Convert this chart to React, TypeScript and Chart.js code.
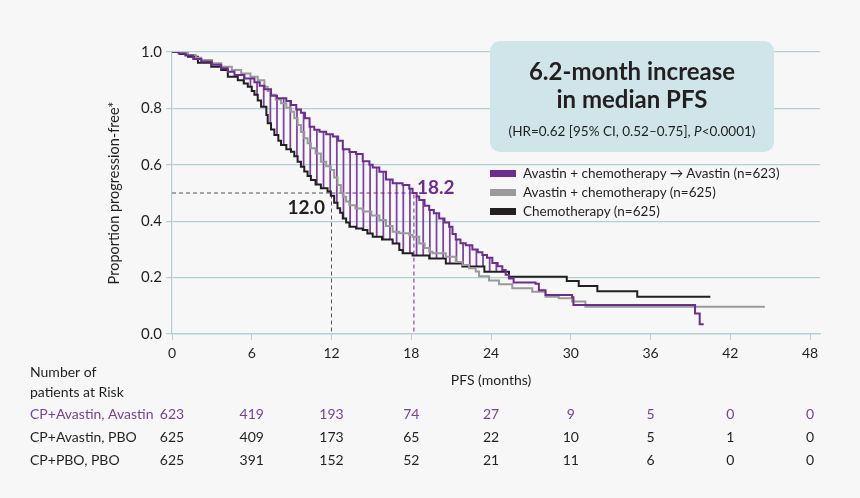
import React, { useRef, useEffect } from "react";
import Chart from "chart.js/auto";

// Kaplan-Meier curves: step times (months) and proportion progression-free
const maintTime = [0, 0.5, 1.0, 1.6, 2.2, 3.0, 3.7, 4.2, 4.7, 5.45, 6.2, 6.6, 6.95, 7.45, 7.9, 8.6, 8.95, 9.35, 9.7, 10.0, 10.35, 10.7, 11.1, 11.6, 12.1, 12.5, 12.85, 13.35, 13.85, 14.35, 14.85, 15.1, 15.6, 16.1, 16.6, 17.35, 17.85, 18.1, 18.4, 18.6, 19.0, 19.35, 19.7, 20.1, 20.5, 20.85, 21.1, 21.35, 21.7, 22.1, 22.6, 23.0, 23.35, 23.7, 24.1, 24.5, 24.85, 25.1, 25.35, 25.7, 27.35, 27.6, 28.1, 30.1, 30.2, 39.35, 39.7, 40.0];
const maintProb = [1.0, 0.995, 0.988, 0.975, 0.966, 0.955, 0.942, 0.93, 0.918, 0.906, 0.893, 0.88, 0.868, 0.845, 0.836, 0.826, 0.812, 0.796, 0.785, 0.765, 0.735, 0.724, 0.717, 0.708, 0.7, 0.685, 0.655, 0.645, 0.638, 0.613, 0.6, 0.59, 0.575, 0.548, 0.535, 0.528, 0.515, 0.5, 0.488, 0.475, 0.455, 0.44, 0.428, 0.41, 0.395, 0.38, 0.355, 0.335, 0.322, 0.315, 0.3, 0.29, 0.28, 0.27, 0.252, 0.24, 0.227, 0.21, 0.197, 0.183, 0.178, 0.155, 0.138, 0.13, 0.103, 0.073, 0.035, 0.035];

const avPboTime = [0, 0.6, 1.2, 1.8, 2.2, 3.0, 3.7, 4.5, 5.2, 5.9, 6.45, 6.95, 7.2, 7.45, 7.8, 8.2, 8.6, 8.95, 9.2, 9.45, 9.7, 9.95, 10.2, 10.45, 10.8, 11.2, 11.6, 11.95, 12.2, 12.45, 12.7, 12.85, 13.1, 13.35, 13.8, 14.35, 15.0, 15.6, 16.1, 16.6, 17.1, 17.85, 18.1, 18.6, 19.0, 19.35, 19.6, 20.6, 21.35, 21.85, 22.35, 22.85, 23.1, 23.85, 24.6, 25.6, 27.1, 28.1, 29.1, 30.1, 31.1, 44.6];
const avPboProb = [1.0, 0.997, 0.989, 0.98, 0.972, 0.96, 0.948, 0.936, 0.924, 0.912, 0.9, 0.877, 0.862, 0.848, 0.832, 0.818, 0.802, 0.788, 0.765, 0.741, 0.716, 0.694, 0.676, 0.659, 0.64, 0.611, 0.595, 0.582, 0.555, 0.528, 0.5, 0.487, 0.47, 0.457, 0.445, 0.434, 0.42, 0.404, 0.383, 0.363, 0.357, 0.351, 0.345, 0.321, 0.305, 0.292, 0.286, 0.274, 0.255, 0.245, 0.233, 0.222, 0.205, 0.19, 0.176, 0.162, 0.15, 0.132, 0.127, 0.115, 0.097, 0.097];

const chemoTime = [0, 0.6, 1.2, 1.95, 2.95, 3.7, 4.2, 4.95, 5.4, 5.7, 6.0, 6.2, 6.45, 6.7, 7.1, 7.2, 7.45, 7.7, 8.0, 8.2, 8.6, 8.95, 9.2, 9.45, 9.7, 9.95, 10.2, 10.45, 10.8, 11.2, 11.7, 11.95, 12.2, 12.45, 12.65, 12.85, 13.1, 13.35, 13.85, 14.35, 14.7, 15.1, 15.8, 16.6, 17.1, 17.35, 18.1, 19.35, 20.6, 21.85, 23.5, 25.35, 29.7, 30.6, 32.0, 35.0, 40.5];
const chemoProb = [1.0, 0.993, 0.983, 0.962, 0.948, 0.936, 0.912, 0.9, 0.888, 0.877, 0.862, 0.848, 0.828, 0.806, 0.777, 0.747, 0.725, 0.706, 0.685, 0.67, 0.655, 0.646, 0.63, 0.611, 0.593, 0.576, 0.56, 0.546, 0.53, 0.517, 0.505, 0.49, 0.465, 0.446, 0.43, 0.41, 0.395, 0.38, 0.374, 0.369, 0.356, 0.345, 0.335, 0.321, 0.298, 0.286, 0.278, 0.268, 0.25, 0.239, 0.221, 0.203, 0.188, 0.17, 0.152, 0.132, 0.132];

// months where the purple hatch lines are drawn
const hatchTimes = [5.4, 5.9, 6.4, 6.9, 7.4, 7.9, 8.4, 8.9, 9.4, 9.9, 10.4, 10.9, 11.4, 11.9, 12.4, 12.9, 13.4, 13.9, 14.4, 14.9, 15.4, 15.9, 16.4, 16.9, 17.4, 17.9, 18.4, 18.9, 19.4, 19.9, 20.4, 20.9, 21.4, 21.9, 22.4, 22.9, 23.4, 23.9, 24.4, 24.9];

const medianChemo = 12.0;
const medianMaint = 18.2;

const xTicks = [0, 6, 12, 18, 24, 30, 36, 42, 48];
const riskLabels = ["CP+Avastin, Avastin", "CP+Avastin, PBO", "CP+PBO, PBO"];
const riskMaint = [623, 419, 193, 74, 27, 9, 5, 0, 0];
const riskAvPbo = [625, 409, 173, 65, 22, 10, 5, 1, 0];
const riskChemo = [625, 391, 152, 52, 21, 11, 6, 0, 0];

const legendLabels = [
  "Avastin + chemotherapy \u2192 Avastin (n=623)",
  "Avastin + chemotherapy (n=625)",
  "Chemotherapy (n=625)",
];

const PURPLE = "#6b2d90";
const GRAY = "#9a9a9a";
const BLACK = "#231f20";
const GRID = "#b3ced5";
const FONT = "Lato, 'Open Sans', sans-serif";

const toPoints = (ts: number[], ps: number[]) => ts.map((t, i) => ({ x: t, y: ps[i] }));

const stepAt = (ts: number[], ps: number[], t: number) => {
  let v = ps[0];
  for (let i = 0; i < ts.length; i++) {
    if (ts[i] <= t) v = ps[i];
    else break;
  }
  return v;
};

const App: React.FC = () => {
  const canvasRef = useRef<HTMLCanvasElement | null>(null);

  useEffect(() => {
    if (!canvasRef.current) return;

    const textPlugin = {
      id: "kmText",
      afterDraw(chart: any) {
        const { ctx } = chart;
        const x = chart.scales.x;
        const y = chart.scales.y;
        ctx.save();
        ctx.textBaseline = "middle";
        ctx.textAlign = "center";
        ctx.font = `bold 19px ${FONT}`;
        ctx.fillStyle = BLACK;
        ctx.fillText(medianChemo.toFixed(1), x.getPixelForValue(10.1), y.getPixelForValue(0.447));
        ctx.fillStyle = PURPLE;
        ctx.fillText(medianMaint.toFixed(1), x.getPixelForValue(19.85), y.getPixelForValue(0.518));

        ctx.font = `14px ${FONT}`;
        ctx.fillStyle = BLACK;
        ctx.fillText("PFS (months)", x.getPixelForValue(24), 380);
        ctx.textAlign = "left";
        ctx.fillText("Number of", 30, 372);
        ctx.fillText("patients at Risk", 30, 392);

        const rows = [riskMaint, riskAvPbo, riskChemo];
        const colors = ["#74439a", BLACK, BLACK];
        rows.forEach((row, r) => {
          const rowY = 414 + r * 23;
          ctx.fillStyle = colors[r];
          ctx.textAlign = "left";
          ctx.fillText(riskLabels[r], 30, rowY);
          ctx.textAlign = "center";
          row.forEach((n, i) => ctx.fillText(String(n), x.getPixelForValue(xTicks[i]), rowY));
        });
        ctx.restore();
      },
    };

    const hatch = hatchTimes.map((t) => ({
      x: t,
      y: [stepAt(chemoTime, chemoProb, t), stepAt(maintTime, maintProb, t)],
    }));

    const chart = new Chart(canvasRef.current, {
      type: "line",
      data: {
        datasets: [
          {
            label: legendLabels[0],
            data: toPoints(maintTime, maintProb),
            borderColor: PURPLE,
            borderWidth: 2,
            stepped: true,
            pointRadius: 0,
          },
          {
            label: legendLabels[1],
            data: toPoints(avPboTime, avPboProb),
            borderColor: GRAY,
            borderWidth: 2,
            stepped: true,
            pointRadius: 0,
          },
          {
            label: legendLabels[2],
            data: toPoints(chemoTime, chemoProb),
            borderColor: BLACK,
            borderWidth: 2,
            stepped: true,
            pointRadius: 0,
          },
          {
            label: "median chemo",
            data: [
              { x: 0, y: 0.5 },
              { x: medianChemo, y: 0.5 },
              { x: medianChemo, y: 0 },
            ],
            borderColor: "#555555",
            borderWidth: 1,
            borderDash: [4, 3],
            pointRadius: 0,
          },
          {
            label: "median maint",
            data: [
              { x: medianChemo, y: 0.5 },
              { x: medianMaint, y: 0.5 },
              { x: medianMaint, y: 0 },
            ],
            borderColor: PURPLE,
            borderWidth: 1,
            borderDash: [4, 3],
            pointRadius: 0,
          },
          {
            type: "bar",
            label: "hatch",
            data: hatch as any,
            backgroundColor: "#7a45a0",
            barThickness: 1.1,
            grouped: false,
          } as any,
        ],
      },
      options: {
        animation: false,
        responsive: false,
        layout: { padding: { left: 102, top: 52, right: 40, bottom: 134 } },
        plugins: { legend: { display: false }, tooltip: { enabled: false } },
        scales: {
          x: {
            type: "linear",
            min: 0,
            max: 48.75,
            offset: false,
            afterFit: (s: any) => {
              s.height = 30;
            },
            ticks: {
              stepSize: 6,
              includeBounds: false,
              color: BLACK,
              padding: 5,
              maxRotation: 0,
              font: { family: FONT, size: 14 },
            },
            grid: { drawOnChartArea: false, color: GRID, tickLength: 6, offset: false },
            border: { color: GRID, width: 1.2 },
          },
          y: {
            min: 0,
            max: 1,
            afterFit: (s: any) => {
              s.width = 70;
            },
            ticks: {
              stepSize: 0.2,
              color: BLACK,
              padding: 4,
              font: { family: FONT, size: 15 },
              callback: (v: any) => Number(v).toFixed(1),
            },
            grid: { color: GRID, lineWidth: 1.2, tickLength: 6 },
            border: { color: GRID, width: 1.2 },
            title: {
              display: true,
              text: "Proportion progression-free*",
              color: BLACK,
              font: { family: FONT, size: 14.5 },
            },
          },
        },
      },
      plugins: [textPlugin],
    });

    return () => chart.destroy();
  }, []);

  const legendColors = [PURPLE, GRAY, BLACK];

  return (
    <div
      style={{
        position: "absolute",
        left: 0,
        top: 0,
        width: 860,
        height: 498,
        background: "#f7f7f7",
        fontFamily: FONT,
        color: BLACK,
      }}
    >
      <canvas ref={canvasRef} width={860} height={498} style={{ position: "absolute", left: 0, top: 0 }} />
      <div
        style={{
          position: "absolute",
          left: 490,
          top: 41,
          width: 284,
          height: 111,
          borderRadius: 10,
          background: "#cfe5e9",
          textAlign: "center",
        }}
      >
        <div style={{ position: "absolute", left: 0, right: 0, top: 16, fontSize: 24, fontWeight: 700, lineHeight: "28px" }}>
          6.2-month increase
        </div>
        <div style={{ position: "absolute", left: 0, right: 0, top: 44, fontSize: 24, fontWeight: 700, lineHeight: "28px" }}>
          in median PFS
        </div>
        <div style={{ position: "absolute", left: 0, right: 0, top: 82, fontSize: 13.5, lineHeight: "16px" }}>
          (HR=0.62 [95% CI, 0.52&ndash;0.75], <i>P</i>&lt;0.0001)
        </div>
      </div>
      {legendLabels.map((l, i) => (
        <div key={l} style={{ position: "absolute", left: 490, top: 165 + i * 19, height: 16, display: "flex", alignItems: "center", fontSize: 13.5 }}>
          <span style={{ display: "inline-block", width: 26, height: 7, background: legendColors[i], marginRight: 7 }} />
          {l}
        </div>
      ))}
    </div>
  );
};

export default App;
